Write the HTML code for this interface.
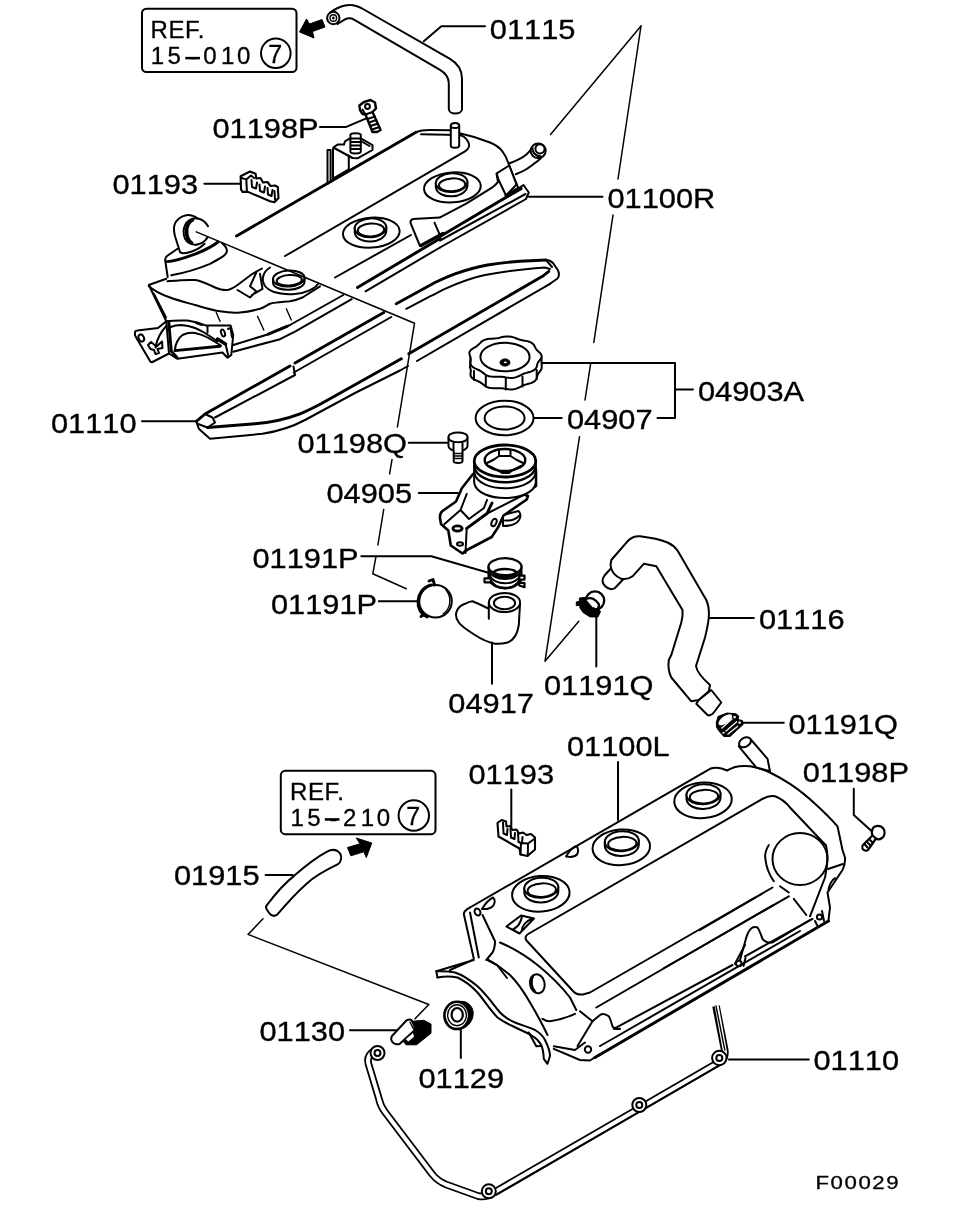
<!DOCTYPE html>
<html><head><meta charset="utf-8"><title>F00029</title>
<style>
html,body{margin:0;padding:0;background:#fff}
svg{display:block}
.l{fill:none;stroke:#000;stroke-width:2;stroke-linecap:round;stroke-linejoin:round}
.t{fill:none;stroke:#000;stroke-width:1.4;stroke-linecap:round;stroke-linejoin:round}
.k{fill:none;stroke:#000;stroke-width:2.9;stroke-linecap:round;stroke-linejoin:round}
.w{fill:#fff;stroke:#000;stroke-width:2;stroke-linecap:round;stroke-linejoin:round}
.b{fill:#000;stroke:#000;stroke-width:1;stroke-linejoin:round}
text{font-family:"Liberation Sans",sans-serif;fill:#000}
#labels,#ref1,#ref2{filter:opacity(1)}
.n{font-size:28.5px;letter-spacing:0;font-kerning:none;stroke:#000;stroke-width:0.35px}
.r{font-size:24px;letter-spacing:0.6px;stroke:#000;stroke-width:0.3px}
.f{font-size:18.5px;letter-spacing:1.3px;font-kerning:none;stroke:#000;stroke-width:0.3px}
</style></head><body>
<svg width="960" height="1210" viewBox="0 0 960 1210">
<rect width="960" height="1210" fill="#fff"/>
<!-- 10_ref1.svg -->
<g id="ref1">
<rect class="l" x="142" y="8.7" width="154.5" height="63.3" rx="4.5"/>
<text class="r" transform="translate(150.5,37.5) scale(1.002,1)">REF.</text>
<text class="r" transform="translate(0,64.3) scale(1.002,1)" x="150.5 167.1 189 202.8 220.5 236.5" style="letter-spacing:0">15-010</text>
<path class="l" style="stroke-width:2.5;stroke-linecap:butt" d="M185.3 58.1H200"/>
<circle class="l" cx="275.8" cy="53.3" r="14.8"/>
<text class="r" transform="translate(268.3,63) scale(1.002,1)" style="letter-spacing:0;font-size:25px">7</text>
<path class="b" d="M299.5 32 306.5 19 309.5 24 322 19.5 325 27 312.5 31.5 314 38Z"/>
</g>
<!-- 11_ref2.svg -->
<g id="ref2">
<rect class="l" x="280.8" y="770.8" width="154.7" height="63.4" rx="4.5"/>
<text class="r" transform="translate(290,799.5) scale(1.002,1)">REF.</text>
<text class="r" transform="translate(0,825.6) scale(1.002,1)" x="290 306.6 328.5 342.3 360 376" style="letter-spacing:0">15-210</text>
<path class="l" style="stroke-width:2.5;stroke-linecap:butt" d="M324.8 819.4 H339.5"/>
<circle class="l" cx="413.8" cy="815.5" r="15.2"/>
<text class="r" transform="translate(406.3,825.2) scale(1.002,1)" style="letter-spacing:0;font-size:25px">7</text>
<path class="b" d="M371.8 843 L356.3 838 L360 843.8 L347.5 847.5 L350.8 855.8 L363.8 851.8 L366.3 857.5Z"/>
</g>
<g id="hose01915">
<path class="w" d="M327.5 851.3 C331 849.5 334.5 849.5 337.5 851 C341 853.5 341.8 857.5 340.5 861 C340 862.5 339 863.5 338 864.2 C325 870.5 315 876 306.9 883.4 C296 893 287 903 277.2 914.7 C274.5 916.5 271.5 915.8 269.5 913.5 L266.5 909 C265.5 907 266 905.5 267.8 904 C276 893 285 883 294.4 875.6 C304 867 315 858 327.5 851.3Z"/>
<path class="l" d="M265.6 875 H292.8"/>
<path class="l" style="stroke-width:1.5" d="M263 918.8 L248 934.4 L428.8 1004.5 L415 1018.8"/>
</g>
<!-- 20_hose1.svg -->
<g id="hose01115">
<path class="w" d="M330 12.6 C335 9 340 6.5 345 5.5 C351 4.3 357 5.5 363 9 L450 58.8 C458 63.5 462 70 462 78.5 L462 109 C462 115 448.8 115 448.8 109 L448.8 83 C448.8 76.5 445.5 73 440 69.8 L354 19.6 C350.5 17.6 347.5 18 344.5 19.6 L337.5 24"/>
<circle class="w" cx="333.3" cy="18" r="6.2"/>
<circle class="t" cx="333.3" cy="18" r="3.3"/>
<circle class="b" cx="333.3" cy="18" r="1"/>
<path class="l" d="M423.8 41.3 441.3 26.3H485"/>
</g>
<!-- 30_coverR_top.svg -->
<g id="coverR_top">
<!-- thick ridge -->
<path class="k" d="M236.5 236 L416 132.3"/>
<!-- top outline -->
<path class="l" d="M416 132.3 C420 130.5 425 130 430 130 L450 130.3 M459.5 133.3 C470 135.5 481 139 490 142.5 C496 145 500 148 502.5 151.5 C505 155 506.5 158 507.5 161 L515 180 L518.5 188.5"/>
<!-- inner panel outline -->
<path class="l" d="M285 256 L465 151.3 C469 149 470 145 468 141.5 C466 138 463 135.5 459.5 135 L421 134.3"/>
<!-- nipple -->
<path class="w" d="M450.8 125.5 V145.5 C450.8 148.5 459.2 148.5 459.2 145.5 V125.5"/>
<ellipse class="w" cx="455" cy="125.5" rx="4.2" ry="2.6"/>
<!-- hole 1 -->
<ellipse class="l" cx="452.4" cy="187.4" rx="28.4" ry="15.0" transform="rotate(-4 452.4 187.4)"/>
<path class="w" d="M435.8 182.6 V187.1 C437.6 200.1 465.6 199.1 467.4 186.1 V181.6"/>
<ellipse class="w" cx="451.6" cy="182.6" rx="15.8" ry="9.4" transform="rotate(-3 451.6 182.6)"/>
<ellipse class="l" cx="452.1" cy="184.8" rx="13.2" ry="6.4" transform="rotate(-3 452.1 184.8)"/>
<!-- hole 2 -->
<ellipse class="l" cx="371.3" cy="232.6" rx="28.4" ry="15.0" transform="rotate(-4 371.3 232.6)"/>
<path class="w" d="M354.7 227.8 V232.3 C356.5 245.3 384.5 244.3 386.3 231.3 V226.8"/>
<ellipse class="w" cx="370.5" cy="227.8" rx="15.8" ry="9.4" transform="rotate(-3 370.5 227.8)"/>
<ellipse class="l" cx="371.0" cy="230.0" rx="13.2" ry="6.4" transform="rotate(-3 371.0 230.0)"/>
</g>
<!-- 31_coverR_right.svg -->
<g id="coverR_right">
<!-- long apex lines -->
<path class="l" style="stroke-width:1.5" d="M641 26 L550.5 134.5"/>
<path class="l" style="stroke-width:1.5" d="M641 26 L618 179 M613 215 L593.8 342.5 M590.6 364 L585 400 M579.5 436.7 L545 661.3 L578.8 621.3"/>
<!-- pipe -->
<path class="w" d="M509.6 163.3 C513 162 516 160.8 519.2 159.2 C522 157.8 524.5 156 526.7 154.2 C528.5 152.5 530 150.8 531.5 148.5 L541 158 C538.5 160.5 536 162.5 533.3 164.2 C530.5 166.3 528 168.3 525 170 C522 171.7 519 173 515.8 174.2"/>
<ellipse class="w" cx="538.2" cy="150.8" rx="7.5" ry="7.3"/>
<circle class="l" cx="540" cy="148.8" r="4.6"/>
<path class="l" d="M532.5 147.5 C532 152 535 156 540.5 156.3"/>
<!-- bracket on pipe -->
<path class="w" d="M496.7 173.3 L509.2 165.5 L516.5 184.5 L506 195.5 L498.3 179.2Z"/>
<!-- flange corner -->
<path class="l" d="M518.5 188.5 L523.5 185 L528.8 192.5 L526 199 L440 247.5"/>
<path class="k" d="M517.5 190.5 L440 236.5"/>
<path class="l" d="M525.5 194 L440 240.5"/>
<path class="k" d="M506 195.5 L517 189"/>
<!-- leader 01100R -->
<path class="l" d="M528.8 196.8 H602.5"/>
</g>
<g id="coverR_baffle">
<path class="l" d="M420 246 L410.4 222.7 C410.5 220.5 411.5 219.3 413.3 219 L439.6 217.6 L465.8 203.8 L492 187.7 C495 185.5 497 183.5 498 181.9 L496.5 173.9"/>
<path class="l" d="M434.5 222.7 L439.6 234.4"/>
<path class="k" style="stroke-width:3.2" d="M421 245.5 L443 233.5 M507.5 196 L521 188.5"/>
</g>
<!-- 32_coverR_front.svg -->
<g id="coverR_front">
<!-- leader line from neck -->
<path class="l" style="stroke-width:1.5" d="M196.3 231.9 L414.5 323.3 L397.4 427 M392 459.5 L389.6 473.8 M383.7 509.5 L377.9 545 M376 556.3 L372.8 573.8 L406.3 588.8"/>
<!-- neck -->
<path class="l" d="M180 252 L175 236.3 C173.5 230 173.8 227 174.6 224.5 C176 220 181 216 186.3 215.2 C191 214.7 195 216.5 197.5 218.5"/>
<path class="l" d="M208 226.3 C204 219 196 216.3 189.5 220 C182 225 181.5 238 189 243 C194 246 201 244.8 205 240.6 L207.5 237.5"/>
<path class="k" style="stroke-width:3.6" d="M192.5 220 C185 224 184.6 237.5 191.5 243"/>
<path class="l" d="M180 252 C182 254.2 185 254 192.5 251.3 C197 249.5 201.5 247 204.5 243.8"/>
<!-- dome -->
<path class="l" d="M177.5 248.8 L167 256 C165.3 257.5 165 259 165.2 260.5 L167.7 277"/>
<path class="k" d="M166.8 261.6 C172 261.5 186 257.5 196.3 253.7 C204 250.5 213 246 218 242"/>
<path class="l" d="M222 243 C225.5 246 227.3 249 226.8 251.8 C226 255 222 257.5 210 263.8 C200 268 186 272.5 171.3 275.3"/>
<!-- top front -->
<path class="l" d="M166.3 278.8 L148.8 285 L166.3 321.3 M153.8 293.8 L166 317.5"/>
<path class="l" d="M167.5 281.3 C176 280.5 185 279.5 195 280 C203 281 209 285 215 287.5 C220 289.5 224 290.5 227.5 290 C231 289.5 234 287.5 237.5 285 L252.5 273.8 L262 268.5"/>
<path class="l" d="M148.8 286 C153 290 160 294 170 297.5 C180 301 188 303 195 305 C204 307.5 212 310 220 311.3 C228 312.6 234 313 240 312.5 C248 312 254 310.5 260 308.8 C264 307.5 267 305 270 303.8 C276 302 284 302 290 301.3 C295 300.5 299 299 302.5 297.5 L320 286.3"/>
<!-- bottom edge of front -->
<path class="l" d="M233.3 345 L268.3 334.2 L290 325 L343.3 295"/>
<path class="k" d="M268.3 334.2 L287 326.3"/>
<path class="l" d="M233.3 351.7 L280 339.2 L295 331.7 L351.7 299.2"/>
<path class="t" d="M216.3 312.5 L220 321.3 M257.5 316.3 L263.8 330 M286.3 308.8 L291.3 320"/>
<!-- tab near hole3 -->
<path class="l" d="M256.3 272.5 L250 286.3 L256.3 291.3 M237.5 290 L250 297.5 L256.3 291.3 M260 273.8 L262.5 288.8 L252 295"/>
<!-- hole 3 -->
<ellipse class="l" cx="288.8" cy="278.5" rx="15.8" ry="8" transform="rotate(-3 288.8 278.5)"/>
<ellipse class="l" cx="289.3" cy="280.3" rx="12.6" ry="5.2" transform="rotate(-3 289.3 280.3)"/>
<path class="l" d="M273 279 V283 C274 292.5 304 292 304.6 281.5 V278"/>
<path class="l" d="M270 267.5 C262.5 272 261 280 265 286 C270 292.5 282 295 295 294 C306 293 315 288.5 318 284"/>
<path class="l" d="M335 277.5 L411 235"/>
</g>
<!-- 33_coverR_bracket.svg -->
<g id="coverR_bracket">
<path class="w" d="M135 332 C135.5 331 136.5 330.7 137.5 330.6 L158 328 L166.3 321.3 L169 353.5 L152.5 362 C151.5 362.3 150.5 362 150 361 L135 335.5Z"/>
<ellipse class="l" cx="141.3" cy="338" rx="2.6" ry="3.7" transform="rotate(-25 141.3 338)"/>
<path class="l" d="M148 345 L151 342 L156.5 346.5 L162 341.5 L162.5 348 L157.5 349 L159 353 L155.5 354 L154 350 L150.5 349Z"/>
<path class="l" d="M155.5 347.5 C157 339 160.5 332 166.3 326"/>
<path class="l" d="M166.3 321.3 C174 320.3 181 320.2 187.5 320.6 C194 321.5 200 323 206.3 325.6 L230.6 325.6 L233.2 335 L231.3 355 L227.5 357.8 L222.5 352.5 L177.5 358.8 L168.8 353.5"/>
<path class="k" d="M168.8 322.5 L171.3 351.3 L177 357.5"/>
<path class="k" d="M175 350.6 L220 346.3"/>
<path class="l" d="M175 350 C175 345 178 338 182.5 335 C187 332.8 191 332.5 195 333 C200 334 204 335.5 207.5 337.5 L221 345.5"/>
<path class="l" d="M170.6 327 C174 325.5 177.5 325 181.3 325 C186 325.3 190.5 326.3 195 328 C199 329.7 202 331.2 205 333 L217.5 341.3"/>
<path class="k" style="stroke-width:3.4" d="M217.5 339 L225.5 344"/>
<path class="l" d="M207.5 326.3 V332.5 M196 323 L202 325"/>
<ellipse class="l" cx="223" cy="333" rx="1.8" ry="3.6" transform="rotate(-20 223 333)"/>
<path class="l" d="M228 329 C229.5 327.5 231 328.5 231 331 L232 337"/>
<path class="l" d="M225.5 344 L228.5 356.5"/>
</g>
<!-- 34_gasketR.svg -->
<g id="flangeR">
<path class="k" style="stroke-width:3" d="M357.5 287.5 L440 238.5"/>
<path class="l" d="M365.5 291.3 L440 247.5"/>
</g>
<g id="gasketR">
<!-- leader 01110 -->
<path class="l" d="M142 421.3 H196"/>
<!-- outer top edge -->
<path class="k" d="M196.3 421.3 L205 414 L290 366 M295 363 L383.8 312.5 M396.3 303.8 L435 282.5 C442 279 448 276.3 455 273.8 C466 270 476 267 487.5 265 C498 263.3 509 262 520 261.3 L546 260"/>
<path class="l" d="M546 260 C549 260 551 261 553 263 L557.5 269.5 C559.5 273 559.5 276 557.5 278.5 L550 283.8"/>
<!-- outer bottom edge -->
<path class="l" d="M550 283.8 L417 361 M408 366 L400 370.5 L355 393 L305 420 C292 427 280 431 262.5 433.8 L210 438.8 L198.8 428.8 L196.3 421.3"/>
<!-- inner top -->
<path class="l" d="M215 417.5 L295 375 L293.5 366.5 M293.8 372.5 L391.3 317 M406.3 308.8 L430 296.3 C435 294.5 440 291 445 288.8 C458 283 470 278 485 275 C505 271 525 269 545 267.5 L550 269"/>
<!-- inner bottom thick -->
<path class="k" d="M548.8 271.3 L542.5 276.3 L408.8 353.8 M401.3 358.8 L330 398.8 C320 404.5 310 410 300 413.8 C285 419.5 270 422.5 255 423.8 L207.5 427.5"/>
<path class="l" d="M546 260 L552 267 M205 414 L212.5 417.5 L215 422.5 L207.5 427.5 L198 424"/>
</g>
<!-- 40_cap.svg -->
<g id="cap04903A">
<path class="w" d="M541.5 357.3 L541.7 367.3 L541.5 368.8 L540.8 370.2 L539.8 371.6 L538.8 372.9 L537.9 374.2 L537.4 375.5 L537.0 377.0 L536.7 378.4 L535.9 379.9 L534.7 381.1 L533.0 382.2 L530.8 383.1 L528.5 383.7 L526.3 384.4 L524.2 385.0 L522.2 385.9 L520.4 386.8 L518.4 387.8 L516.3 388.6 L513.9 389.2 L511.3 389.4 L508.8 389.2 L506.2 388.9 L503.8 388.5 L501.4 388.3 L499.0 388.2 L496.5 388.3 L493.9 388.3 L491.3 388.1 L488.9 387.7 L486.7 386.9 L484.9 385.8 L483.4 384.6 L481.9 383.5 L480.4 382.4 L478.6 381.5 L476.6 380.6 L474.6 379.7 L472.8 378.6 L471.4 377.3 L470.7 375.9 L470.5 374.5 L470.6 373.0 L470.8 371.5 L470.8 370.2 L470.5 368.8 L470.0 367.4 L470.5 357.3"/>
<path class="w" d="M541.5 357.3 L540.8 358.7 L539.8 360.1 L538.8 361.4 L537.9 362.7 L537.4 364.0 L537.0 365.5 L536.7 366.9 L535.9 368.4 L534.7 369.6 L533.0 370.7 L530.8 371.6 L528.5 372.2 L526.3 372.9 L524.2 373.5 L522.2 374.4 L520.4 375.3 L518.4 376.3 L516.3 377.1 L513.9 377.7 L511.3 377.9 L508.8 377.7 L506.2 377.4 L503.8 377.0 L501.4 376.8 L499.0 376.7 L496.5 376.8 L493.9 376.8 L491.3 376.6 L488.9 376.2 L486.7 375.4 L484.9 374.3 L483.4 373.1 L481.9 372.0 L480.4 370.9 L478.6 370.0 L476.6 369.1 L474.6 368.2 L472.8 367.1 L471.4 365.8 L470.7 364.4 L470.5 363.0 L470.6 361.5 L470.8 360.0 L470.8 358.7 L470.5 357.3 L470.0 355.9 L469.5 354.4 L469.3 353.0 L469.7 351.5 L470.7 350.2 L472.2 348.9 L474.0 347.9 L475.7 346.8 L477.3 345.8 L478.6 344.6 L479.8 343.4 L481.0 342.1 L482.5 340.9 L484.5 339.9 L486.7 339.2 L489.3 338.8 L491.8 338.7 L494.3 338.5 L496.7 338.3 L499.0 337.9 L501.3 337.3 L503.7 336.8 L506.3 336.4 L508.8 336.4 L511.3 336.7 L513.7 337.4 L515.9 338.2 L517.9 339.0 L520.0 339.7 L522.2 340.2 L524.6 340.7 L527.1 341.1 L529.4 341.8 L531.4 342.7 L533.0 343.9 L534.1 345.2 L534.8 346.6 L535.5 348.0 L536.3 349.3 L537.4 350.6 L538.7 351.8 L540.1 353.0 L541.1 354.4 L541.7 355.8 L541.5 357.3Z"/>
<ellipse class="l" cx="505" cy="357" rx="24.6" ry="14.2"/>
<ellipse class="b" cx="505" cy="362.5" rx="5" ry="3.6"/>
<ellipse cx="505.3" cy="362.3" rx="1.6" ry="0.9" fill="#fff"/>
<path class="l" d="M474.0 371.0 V380.0 M485.8 376.5 V386.5 M505.8 378.5 V389.5 M522.5 376.5 V386.5 M536.7 370.0 V379.0"/>
<path class="l" d="M541.7 363 H675 V418 H657.5 M675 389.6 H693"/>
<ellipse class="l" cx="504.6" cy="418" rx="29" ry="17.3"/>
<ellipse class="l" cx="504.6" cy="418" rx="20" ry="11.6"/>
<path class="l" d="M533.8 418 H561.7"/>
</g>
<!-- 41_filler.svg -->
<g id="bolt01198Q">
<path class="l" d="M408.8 442.8 H448"/>
<path class="w" d="M448.5 437 C448.5 431 467.5 431 467.5 437 V446 C467.5 448.5 463 450.5 462.5 450.8 V461 C462.5 463.5 453.7 463.5 453.7 461 V450.8 C453 450.5 448.5 448.5 448.5 446Z"/>
<path class="l" d="M448.5 438 C450 443.5 466 443.5 467.5 438 M453.5 442 V449.5 M462.5 442 V449.5"/>
<path class="t" d="M453.7 453.5 H462.5 M453.7 456 H462.5 M453.7 458.5 H462.5"/>
</g>
<g id="filler04905">
<path class="l" d="M418.8 493 H462"/>
<!-- under-arm cylinder -->
<path class="w" d="M503 515 L518.5 511 C521 513 521 517 519 520 C516.5 524 512 526 503 526Z"/>
<path class="l" d="M505 520.5 C510 521 516 519 519.5 515.5"/>
<!-- bracket body -->
<path class="w" style="stroke-width:2.6" d="M473 474 L462 488 L456 501.5 L442.5 511 C440 513 439.8 515 440 518 L441 524 L448.3 530.5 L450.8 545.5 L462.5 553.5 L466 550.5 L491.7 537 L498.3 527 L503.5 515.5 L526.7 499.5 L528 496 L524 494.5 L536 486 V470Z"/>
<path class="l" d="M466.7 494 L460.5 510 L444.5 524 M460.5 510 L469 519 L484 508 L487 500 M466.7 528.3 L465.5 553 M466.7 528.3 L487 513.5 L523.5 495"/>
<path class="k" d="M466.7 528.3 L487 513.5 L492 503"/>
<ellipse class="k" cx="457.5" cy="528.5" rx="4.6" ry="2.6"/>
<ellipse class="l" cx="460" cy="544" rx="3" ry="1.8"/>
<ellipse class="l" cx="494" cy="522.5" rx="2.3" ry="4" transform="rotate(25 494 522.5)"/>
<!-- cylinder body -->
<path class="w" d="M474.2 461 V483 C478 503 532 503 535.8 483 V461Z"/>
<path class="k" style="stroke-width:2.4" d="M474.2 466.7 C478 487.5 532 487.5 535.8 466.7"/>
<path class="l" d="M474.2 472.5 C478 493.5 532 493.5 535.8 472.5"/>
<ellipse class="w" style="stroke-width:2.8" cx="505" cy="461" rx="30.8" ry="16"/>
<ellipse class="k" style="stroke-width:2.4" cx="505" cy="460" rx="20.3" ry="11"/>
<path class="l" d="M499 449.5 V456 H510.5 V449.5 M487 463 L494 459.5 L499 456 M510.5 456 L516 459.5 L523 463 M489 466 L498 470.5 L502 473 H509 L512 470.5 L521 466"/>
</g>
<!-- 42_clamps.svg -->
<g id="clamp01191P_a">
<path class="l" d="M361.3 556.3 H431.3 L488.5 572.8"/>
<path class="w" d="M488.5 566.5 V579 C493 591.5 517 591.5 521.5 579 V566.5Z"/>
<path class="l" d="M489 570 C492 582 518 582 521 570 M489.5 574.5 C493 586.3 517 586.3 520.5 574.5"/>
<path class="k" style="stroke-width:2.4" d="M490 579 C495 591 515 591 520 579"/>
<ellipse class="w" style="stroke-width:2.3" cx="505" cy="566.7" rx="16.5" ry="8.5"/>
<ellipse class="k" style="stroke-width:2.3" cx="505" cy="573" rx="11.4" ry="4"/>
<path class="w" style="stroke-width:2.2" d="M484.5 578.3 H490.8 V582.3 H484.5Z M519.3 575.6 H524.5 V579.6 H519.3Z M519.3 582.6 L524.5 583.2 V587.2 L519.3 585.5Z"/>
</g>
<g id="clamp01191P_b">
<path class="l" d="M378.8 601.3 H417.5"/>
<circle class="l" cx="435.5" cy="601.3" r="16.3"/>
<path class="k" style="stroke-width:3" d="M431 585 C415 589 414 612 427 616.5"/>
<path class="t" d="M446 590 C452 597 451 609 443 614"/>
<path class="k" d="M429 581 L433 579.5 L434.5 585 M421 616.5 L424 614.5 L427 617"/>
</g>
<g id="hose04917">
<path class="w" d="M520 603.8 L518.8 625 C517.5 634 513 640.5 507.5 642.5 C503 643.8 499 644 495 643.8 C489 642.5 481 639 475 635 C468 630.5 462 627 458.8 622.5 C456.3 619 455.5 615.5 456.3 612.5 C457.5 608.5 461 605 465 603.8 C467.5 602.5 470 601.3 472.5 601.3 C477 603 483 606 488.8 608.8 V618.8 V602.5"/>
<ellipse class="w" cx="504.5" cy="602.5" rx="15.6" ry="9.6"/>
<ellipse class="l" cx="504.5" cy="603" rx="10.6" ry="6.2"/>
<path class="l" d="M492 642.5 V683.8"/>
</g>
<!-- 43_hose01116.svg -->
<g id="hose01116">
<!-- inner tube upper end -->
<path class="w" d="M611.3 568 L604.5 575.5 C602 579 602 583 605 586 C608 589 612 590 615 588 L623 579.5"/>
<path class="w" d="M611.3 560 L627.5 541.3 C631 537.5 635 536 640 536.3 C650 537.5 660 539.5 667.5 542.5 C672 544.5 675 547 677.5 550.5 L706.3 600 C708.5 605 709.3 611 708.8 617.5 C708 625 706.5 631.5 705 637.5 L696 666 C696.5 670 701 677 710 685 L708.8 691.3 L698.8 700 L691.3 701.3 L671.3 677.5 C668.5 672 668 666 668.8 660 L671.3 655 L681.3 622.5 C682.5 618 683 614 682.5 610 L656.3 566.3 L643.8 563.8 L632.5 576.3 C629 579 625 579.5 621.3 578.8 C615 576 611 571 610.5 565Z"/>
<path class="w" d="M696.3 703.8 L707.5 715 C710 716 712 715 713.8 712.5 L721.3 702.5 L711.3 690 L698.8 700Z"/>
<path class="l" d="M708.8 618 H753.8"/>
</g>
<g id="clamp01191Q_a">
<circle class="w" style="stroke-width:2.3" cx="595" cy="600.6" r="9.2"/>
<path class="b" d="M579.4 598 L585 597.5 L587 601.3 L592.5 607.5 L598.8 609.4 L600.5 611.5 L598 616.9 L590 616.9 L583 612.5 L580 608 L579.8 605.6 L576.3 605.6 L576.3 601.9 L579.4 601.3Z"/>
<path class="k" style="stroke-width:2.3" d="M586.5 598.6 C589 597.8 591.5 598 593 598.8 C596 600.5 598 602.5 598.8 604 C599.3 606 598.5 608 597.5 608.8"/>
<path class="l" d="M596.3 616.5 V666.5"/>
</g>
<g id="clamp01191Q_b">
<path class="b" d="M716.3 722.5 L718 716.5 L726.9 713 L736.3 713.8 L738.8 716.3 L738 719.5 L742.5 720.6 L743.2 724.4 L730 736.5 L723.8 736.5 L718.5 730.5 L716.5 727Z"/>
<ellipse cx="725.3" cy="719.8" rx="8" ry="3.6" transform="rotate(-35 725.3 719.8)" fill="#fff"/>
<path d="M721.5 728.5 L732.5 718.5 M725.5 731.5 L737 721.5 M727.5 734.5 L738 726" stroke="#fff" stroke-width="1.1" fill="none"/>
<rect x="733.5" y="716" width="2.2" height="2.2" fill="#fff"/><rect x="738.5" y="721.5" width="2.2" height="2.2" fill="#fff"/><rect x="722.5" y="732" width="2" height="1.6" fill="#fff"/>
<path class="l" d="M743.2 722.8 H783.8"/>
</g>
<!-- 50_coverL.svg -->
<g id="coverL">
<!-- leader 01100L -->
<path class="l" d="M618 762 V820"/>
<!-- top-left edge -->
<path class="l" d="M470 907.5 L710 768.8 C714 767.3 718 767.5 722.5 768.8 L727 770.5 C729 769.5 732 768 735 767 C740 765.8 745 765.8 750 766.3 C757 767.3 764 769.5 770 772.5 C778 776.5 784 780 790 783.8 C800 790.5 808 797 815 803.8 C824 812 831 819 837.5 826.3 L842.5 850 L845 857.5 C845.3 862 844.5 866 842.5 870 L827.5 892.5 L830 907.5 L828.5 920"/>
<!-- left corner and edge -->
<path class="l" d="M470 907.5 C466 909.5 464 911.5 463.8 914 L473.8 958.8 M470 912.5 L478.8 957.5"/>
<ellipse class="l" cx="477.5" cy="912" rx="2.8" ry="3.6" transform="rotate(-25 477.5 912)"/>
<path class="l" d="M482 909 C485 904 489 899.5 493 897.5 C495.5 899.5 495 903.5 493 906 C490.5 908.5 487 909.5 482 909Z"/>
<path class="l" d="M566 856.5 C569 851 572.5 847.5 576.5 846 C578.5 848 578.5 852 577 854.5 C574.5 857 571 857.5 566 856.5Z"/>
<path class="l" d="M482.5 915 L495 941.3 C495 946 494 950 492.5 952.5 L486.3 960"/>
<!-- skirt -->
<path class="l" d="M473.8 960 L436.3 971.3 L437.5 977.5 M450 970 L472.5 960"/>
<path class="l" d="M436.3 971.3 C443 971 450 971.5 455 972.5 C463 975 470 980 477.5 986.3 C486 994 493 1004 500 1012.5 C505 1017.5 510 1020.5 515 1022.5 C522 1025.5 529 1027 535 1030 C540 1033 543 1036 545 1040 C548 1046 550 1051 550 1056 L547.5 1063.8 L543.8 1058.8 C543.5 1053 543 1049 541.3 1045 C539 1041 536 1038 532.5 1036 C526 1032 519 1029.5 512.5 1026 C507 1023.5 502 1021 497.5 1017.5 C490 1010 484 1000 477.5 992.5 C471 985.5 464 980.5 457.5 977.5 C451 976 445 976 437.5 977.5"/>
<path class="l" d="M488.8 960 C496 964 503 969 510 975 C518 983 524 992 530 1002.5 C535 1011 540 1020 543.8 1027.5 L547.5 1035"/>
<path class="l" d="M528.8 1032.5 L536.3 1046.3 L541 1046"/>
<!-- front face lines -->
<path class="l" d="M500 942.5 C513 948 526 956 537.5 965 C550 975 561 986 570 997.5 L576.3 1010"/>
<path class="l" d="M487.5 960 L497 965 L507 978"/>
<path class="l" d="M542.5 1018.8 C545 1020.5 548 1021.3 550 1021.3 C559 1020 567 1017.5 575 1013.8"/>
<ellipse class="l" cx="537.3" cy="983.8" rx="7.3" ry="9.6" transform="rotate(-12 537.3 983.8)"/>
<path class="l" d="M533 976.5 C530.5 981 531.5 988 535.5 992"/>
<!-- X mark -->
<path class="l" d="M506.5 926.5 L521 915.5 L534 918.5 L519.5 933.5Z M513 929.5 C518 927 521 922 522 916.5 M521.5 931.5 C522 926 526 921 531.5 919"/>
<!-- inner panel -->
<path class="l" d="M680 848 L529 933.5 C525.5 935.5 524.5 938 526.5 940.5 L573 991 C575.5 993.8 579 995 583 995 L590 995 L762.5 798.8 C767 796 771 795.5 775 796.3 C781 798.5 786 802.5 790 807.5 L827.5 847.5" style="display:none"/>
<path class="l" d="M762.5 798.8 L529 933.5 C525.5 935.5 524.5 938 526.5 940.5 L573 991 C575.5 993.8 579 995 583 994.5 L590 992.5 L755 897.5"/>
<path class="l" d="M762.5 798.8 C767 796.3 771 795.5 775 796.3 C781 798.5 786 802.5 790 807.5 L826 845.5 C828.5 855 827.5 866 825 877.5 L810 916.3"/>
<path class="l" d="M596.3 1007.5 L772.5 905.5"/>
<path class="l" d="M613.8 1028.8 L732.5 965"/>
<!-- holes -->
<ellipse class="l" cx="703.0" cy="800.3" rx="28.8" ry="17.8" transform="rotate(-4 703.0 800.3)"/>
<path class="w" d="M686.5 794.3 V799.3 C688.5 812.8 718.5 811.8 720.5 798.3 V793.3"/>
<ellipse class="w" cx="703.5" cy="794.3" rx="17.0" ry="10.0" transform="rotate(-3 703.5 794.3)"/>
<ellipse class="l" cx="704.0" cy="796.7" rx="14.2" ry="6.8" transform="rotate(-3 704.0 796.7)"/>
<ellipse class="l" cx="621.3" cy="847.3" rx="28.8" ry="17.8" transform="rotate(-4 621.3 847.3)"/>
<path class="w" d="M604.8 841.3 V846.3 C606.8 859.8 636.8 858.8 638.8 845.3 V840.3"/>
<ellipse class="w" cx="621.8" cy="841.3" rx="17.0" ry="10.0" transform="rotate(-3 621.8 841.3)"/>
<ellipse class="l" cx="622.3" cy="843.7" rx="14.2" ry="6.8" transform="rotate(-3 622.3 843.7)"/>
<ellipse class="l" cx="540.8" cy="893.8" rx="28.8" ry="17.8" transform="rotate(-4 540.8 893.8)"/>
<path class="w" d="M524.3 887.8 V892.8 C526.3 906.3 556.3 905.3 558.3 891.8 V886.8"/>
<ellipse class="w" cx="541.3" cy="887.8" rx="17.0" ry="10.0" transform="rotate(-3 541.3 887.8)"/>
<ellipse class="l" cx="541.8" cy="890.2" rx="14.2" ry="6.8" transform="rotate(-3 541.8 890.2)"/>
<!-- round boss -->
<ellipse class="l" cx="800" cy="859" rx="27.5" ry="26"/>
<path class="l" d="M768.8 845 C765.5 850 764.5 855 765.5 860 C766.5 868 769.5 875 773.8 881.3"/>

<path class="l" d="M772.5 887.5 L700 930 M788.8 896.3 L700 947.5 L664 968"/>
<path class="l" d="M780 886.3 L788.8 892.5 M793.8 898.8 L806.3 915"/>
<path class="l" d="M828 869 L843 864 M828.5 890 C829.5 884 832 880 835 878"/>
<!-- right bottom notch -->
<path class="l" d="M740 960 L746.3 937.5 C748 932 750 929 752.5 927.5 C754.5 926.5 756 926.8 757.5 927.5 C759.5 930 761 935 762.5 938.8 C765 942 768.5 943 772.5 942.5 L810 920"/>
<circle class="l" cx="819.5" cy="917" r="2.6"/>
<circle class="l" cx="738.8" cy="963.5" r="2.8"/>
<path class="l" d="M812.5 918.8 L745 956.3 M735 963.8 L745 945 M743.5 966 L745.5 958"/>
<path class="l" d="M822 911 L824 921 M815 921 L817 925"/>
<!-- bottom edge -->
<path class="k" style="stroke-width:3" d="M828.5 921 L595 1057.5"/>
<path class="l" d="M800 931 L617.5 1036 L600 1046"/>
<!-- left bottom notch / zigzag -->
<path class="l" d="M580 1011.3 L592.5 1021.3 L600 1015 C602 1013.5 605 1013.5 608.8 1016.3 C610.5 1019 611.5 1023 612.5 1026.3 C614.5 1029 617 1029.5 620 1028.8"/>
<path class="l" d="M592.5 1021.3 L577.5 1046"/>
<path class="l" d="M553.8 1046.3 L575 1050 L585 1042.5 M553.8 1048.8 L580 1060 L590 1060.5 L600 1054"/>
<circle class="l" cx="588" cy="1049.5" r="3.2"/>
<!-- pipe -->
<path class="w" d="M738.8 746.3 L756.3 767.5 L770 771.3 L767.5 758.8 L751.3 740Z"/>
<ellipse class="w" cx="745" cy="742.3" rx="6.4" ry="4.4" transform="rotate(-30 745 742.3)"/>
</g>
<!-- 51_gasketL.svg -->
<g id="gasketL">
<path d="M716 1006 L724.5 1049 C725.5 1054 725 1058 721 1061 L640 1108 L494 1192.5 C489 1196 484 1197.5 478 1196 L446 1184.5 C440 1182 436 1179 432 1174 L385 1112 C382 1108 380 1104 379 1099 L368.5 1064 C367 1058 369 1054 374 1051" fill="none" stroke="#000" stroke-width="7.6" stroke-linejoin="round"/>
<path d="M716.3 1004 L724.5 1049 C725.5 1054 725 1058 721 1061 L640 1108 L494 1192.5 C489 1196 484 1197.5 478 1196 L446 1184.5 C440 1182 436 1179 432 1174 L385 1112 C382 1108 380 1104 379 1099 L368.5 1064 C367 1058 369 1054 374 1051" fill="none" stroke="#fff" stroke-width="4" stroke-linejoin="round"/>
<path class="t" d="M716 1006 L724.8 1050"/>
<path class="l" d="M722 1064 L496 1195"/>
<circle class="w" cx="719.3" cy="1058" r="7.2"/><circle class="l" cx="719.3" cy="1058" r="3"/>
<circle class="w" cx="639.3" cy="1105" r="7"/><circle class="l" cx="639.3" cy="1105" r="3"/>
<circle class="w" cx="488.8" cy="1191.3" r="7"/><circle class="l" cx="488.8" cy="1191.3" r="3"/>
<circle class="w" cx="377.5" cy="1053" r="7"/><circle class="l" cx="377.5" cy="1053" r="3"/>
<path class="l" d="M728.8 1059.5 H808.8"/>
</g>
<g id="grommet01129">
<path class="b" d="M459 1001.3 L464 1001.5 C468 1002.5 470.6 1005.2 472 1008 C473.5 1011 473.5 1015 472.5 1018 C471.5 1021.5 469 1025 465 1027.5 L459 1029.5Z"/>
<ellipse class="w" style="stroke-width:2.6" cx="456.8" cy="1015.4" rx="12.4" ry="13.6"/>
<ellipse class="t" cx="457" cy="1015.2" rx="9.4" ry="10.5"/>
<ellipse class="k" style="stroke-width:2.2" cx="457.2" cy="1014.8" rx="5.6" ry="6.8"/>
<path class="l" d="M460.8 1029.5 V1058"/>
</g>
<g id="valve01130">
<path class="l" d="M350 1030.3 H398"/>
<path class="b" d="M409 1021.5 L423.8 1020.3 L431 1024 L431 1033.3 L416.5 1044.8 L406 1044.8 L403 1041Z"/>
<path class="w" style="stroke-width:2" d="M406.6 1020.3 C408.5 1019.3 410.5 1019.3 411.5 1020 L414.4 1026 L414.6 1030.2 L399.8 1043.8 C397 1045 393.5 1044 392 1041.5 C391 1039.5 391 1037.5 392 1036Z"/>
<path d="M405.8 1039.2 L413 1033 L414 1036.8 L408.3 1041.5Z" fill="#fff" stroke="none"/>
<path class="t" d="M410 1022 L413.5 1029"/>
</g>
<!-- 60_clips.svg -->
<g id="clip01193_a">
<path class="l" d="M204.4 183.8 H240.6"/>
<path class="w" style="stroke-width:2.1" d="M240.6 176.3 L250 171.5 L255.6 173.8 L256.3 178.5 L260.5 178 L263 182.5 L267.5 182 L270.5 186 L275 185.5 L277.8 187 L278.5 198 L274.4 202.3 L270 201.3 L248 191.9 L242.5 191.9 L241 189.4Z"/>
<path class="l" style="stroke-width:2" d="M246.3 179.4 L246.9 191.3 M241.5 178 L246.3 179.4 L251 175.5 L254 178 M251.5 180 L252 187 L256 188.5 L257 182.5 M259.5 184.5 L260 191 L264 192.5 L265 186.5 M267.5 188 L268 194.5 L271.5 196 L272.5 190 M274.5 191 L275 200"/>
</g>
<g id="clip01193_b">
<path class="l" d="M511.3 789.5 V827"/>
<path class="w" style="stroke-width:2.1" d="M497.5 823 L501.5 820 L506 821.5 L506.5 826.5 L510 826 L512.5 830 L516.5 829.5 L519 833.5 L523 832.5 L526.5 835 L531 834 L535 837.5 L535 849.5 L527.5 856 L520.5 854.5 L519.5 848.5 L498.5 836.5Z"/>
<path class="l" style="stroke-width:2" d="M503 822.5 L503.5 833.5 L507 835 L507.5 829 M510.5 828.5 L511 837.5 L514.5 839 L515 833 M518 832.5 L518.5 842 L522 843.5 L522.5 837 M520.5 854.5 L521 843 L528 843.5 L535 838.5 M528 843.5 L527.8 855.5"/>
</g>
<!-- 61_studbracket.svg -->
<g id="studbracket">
<path class="l" style="stroke-width:2" d="M327.5 184 V150 H330.6 V182 M333 179 V149"/>
<path class="w" style="stroke-width:2" d="M333.3 147.5 L337.5 144.6 L344 144.6 L345 141.3 L349 138.8 L360.8 138.3 L372.5 145 L372.5 150 L357.5 158.3 L352.5 158Z"/>
<path class="l" style="stroke-width:2" d="M360.8 141 L369.5 146 M348.8 155.5 V169 M333 178.5 L348.8 169.3"/>
<path class="w" style="stroke-width:2" d="M350.4 135 C350.4 132.5 360.8 132.5 360.8 135 V151.5 C360.8 154 350.4 154 350.4 151.5Z"/>
<path class="l" d="M351 138.5 H360.5 M351 142 H360.5 M351 145.5 H360.5 M351 149 H360.5"/>
</g>
<g id="bolt01198P_a">
<path class="l" d="M320 126.9 H346.3 L366.9 118.1"/>
<path class="w" style="stroke-width:2.4" d="M359.4 105.5 L364 102 L370.5 100 L375 102.5 L376 108.5 L372.5 112 L380.6 130 L377 132 L372.5 132 L365.5 114.5 L362.5 114 L360 110Z"/>
<circle class="l" cx="367.5" cy="106.5" r="2.4"/>
<path class="l" d="M362.5 109.5 L365.5 114.5 L372.5 112 M367.5 119 L375 116.5 M369 122.5 L376.5 120 M370.5 126 L378 123.5 M372 129.5 L379.5 127"/>
</g>
<g id="bolt01198P_b">
<path class="l" d="M853.8 788.8 V815 L871.5 831"/>
<path class="w" style="stroke-width:2.2" d="M873 828 C875 825.5 880 825 883 828 C885.5 831 885 836 882 838 C880 839.5 877.5 839.5 876 838.5 L868 850 C866.5 851.5 863.5 850.5 862.5 848.5 C861.8 847 862 846 863 845 L872.5 835.5 C871.5 833 871.8 830 873 828Z"/>
<path class="l" d="M872.5 835.5 L876 838.5 M869 839 L872.5 842.5 M866.5 841.5 L870 845 M864.5 844 L867.5 847.5"/>
</g>
<!-- 90_labels.svg -->
<g id="labels">
<text class="n" transform="translate(489.8,39) scale(1.08,1)">01115</text>
<text class="n" transform="translate(212.5,138) scale(1.08,1)">01198P</text>
<text class="n" transform="translate(112.5,193.8) scale(1.08,1)">01193</text>
<text class="n" transform="translate(607.5,208) scale(1.08,1)">01100R</text>
<text class="n" transform="translate(51,433) scale(1.08,1)">01110</text>
<text class="n" transform="translate(698,401.3) scale(1.08,1)">04903A</text>
<text class="n" transform="translate(567,429) scale(1.08,1)">04907</text>
<text class="n" transform="translate(297.5,453) scale(1.08,1)">01198Q</text>
<text class="n" transform="translate(326.5,503) scale(1.08,1)">04905</text>
<text class="n" transform="translate(252.5,567.5) scale(1.08,1)">01191P</text>
<text class="n" transform="translate(271,613.8) scale(1.08,1)">01191P</text>
<text class="n" transform="translate(759,629.3) scale(1.08,1)">01116</text>
<text class="n" transform="translate(544,695) scale(1.08,1)">01191Q</text>
<text class="n" transform="translate(448.3,713) scale(1.08,1)">04917</text>
<text class="n" transform="translate(788.5,734) scale(1.08,1)">01191Q</text>
<text class="n" transform="translate(567,756.3) scale(1.08,1)">01100L</text>
<text class="n" transform="translate(468.5,783.8) scale(1.08,1)">01193</text>
<text class="n" transform="translate(802.8,782) scale(1.08,1)">01198P</text>
<text class="n" transform="translate(174,885.3) scale(1.08,1)">01915</text>
<text class="n" transform="translate(259.5,1041) scale(1.08,1)">01130</text>
<text class="n" transform="translate(418.5,1087.5) scale(1.08,1)">01129</text>
<text class="n" transform="translate(813.5,1070) scale(1.08,1)">01110</text>
<text class="f" transform="translate(815.5,1188.8) scale(1.2,1)">F00029</text>
</g>
</svg>
</body></html>
